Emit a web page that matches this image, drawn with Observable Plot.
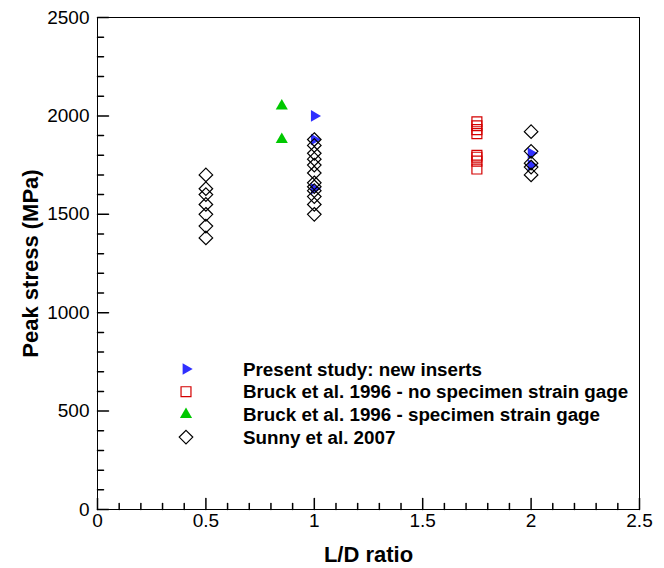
<!DOCTYPE html>
<html><head><meta charset="utf-8">
<script src="https://cdn.jsdelivr.net/npm/d3@7"></script>
<script src="https://cdn.jsdelivr.net/npm/@observablehq/plot@0.6"></script>
<style>
body{margin:0;background:#fff;}
#wrap{position:relative;width:664px;height:568px;font-family:"Liberation Sans",Arial,sans-serif;}
g[aria-label="x-axis label"] text, g[aria-label="y-axis label"] text{font-weight:bold;font-size:22px;}
</style></head><body><div id="wrap"></div>
<script>
// Present study: new inserts
const presentX = [1, 1, 1, 2, 2];
const presentY = [2000, 1880, 1630, 1810, 1750];
// Bruck et al. 1996 - no specimen strain gage
const bruckNoX = [1.75, 1.75, 1.75, 1.75, 1.75, 1.75, 1.75, 1.75];
const bruckNoY = [1970, 1950, 1930, 1910, 1800, 1790, 1770, 1730];
// Bruck et al. 1996 - specimen strain gage
const bruckGX = [0.85, 0.85];
const bruckGY = [2050, 1880];
// Sunny et al. 2007
const sunnyX = [0.5,0.5,0.5,0.5,0.5,0.5,0.5, 1,1,1,1,1,1,1,1,1,1,1,1, 2,2,2,2,2];
const sunnyY = [1700,1630,1600,1550,1500,1440,1380,
                1880,1850,1810,1780,1750,1710,1660,1640,1620,1590,1550,1500,
                1920,1820,1760,1740,1700];

const xMajor = [0, 0.5, 1, 1.5, 2, 2.5];
const xMinor = d3.range(0, 25).map(i => i / 10).filter(v => Math.round(v * 10) % 5 !== 0);
const yMajor = [0, 500, 1000, 1500, 2000, 2500];
const yMinor = d3.range(0, 25).map(i => i * 100).filter(v => v % 500 !== 0);

const series = [
  {label: "Present study: new inserts", xs: presentX, ys: presentY, symbol: "triangle", d3s: d3.symbolTriangle, fill: "#2f2fff", stroke: "none", rotate: 90, r: 4.3},
  {label: "Bruck et al. 1996 - no specimen strain gage", xs: bruckNoX, ys: bruckNoY, symbol: "square", d3s: d3.symbolSquare, fill: "none", stroke: "#d40000", rotate: 0, r: 5.6},
  {label: "Bruck et al. 1996 - specimen strain gage", xs: bruckGX, ys: bruckGY, symbol: "triangle", d3s: d3.symbolTriangle, fill: "#00c800", stroke: "none", rotate: 0, r: 4.5},
  {label: "Sunny et al. 2007", xs: sunnyX, ys: sunnyY, symbol: "diamond2", d3s: d3.symbolDiamond2, fill: "none", stroke: "black", rotate: 0, r: 6.1}
];

const tickShape = {draw(ctx, l) { ctx.moveTo(0, 0); ctx.lineTo(0, -l); }};

const chart = Plot.plot({
  width: 664, height: 568,
  marginLeft: 97, marginRight: 25, marginTop: 17, marginBottom: 59,
  style: {fontFamily: "Liberation Sans, Arial, sans-serif", fontSize: "19px", color: "black", background: "white"},
  x: {domain: [0, 2.5]},
  y: {domain: [0, 2500]},
  marks: [
    Plot.axisX(xMajor, {tickSize: 0, tickPadding: 4, tickFormat: d => String(d), label: "L/D ratio", labelAnchor: "center", labelArrow: "none", labelOffset: 52}),
    Plot.axisY(yMajor, {tickSize: 0, tickPadding: 8, tickFormat: d => String(d), label: "Peak stress (MPa)", labelAnchor: "center", labelArrow: "none", labelOffset: 75}),
    Plot.vector(xMajor, {x: d => d, frameAnchor: "bottom", length: 11, rotate: 0, anchor: "start", shape: tickShape, stroke: "black"}),
    Plot.vector(xMinor, {x: d => d, frameAnchor: "bottom", length: 6, rotate: 0, anchor: "start", shape: tickShape, stroke: "black"}),
    Plot.vector(yMajor, {y: d => d, frameAnchor: "left", length: 11, rotate: 90, anchor: "start", shape: tickShape, stroke: "black"}),
    Plot.vector(yMinor, {y: d => d, frameAnchor: "left", length: 6, rotate: 90, anchor: "start", shape: tickShape, stroke: "black"}),
    ...series.map(s => Plot.dot(s.ys.map((y, i) => ({x: s.xs[i], y})), {
      x: "x", y: "y", symbol: () => s.symbol, r: s.r, fill: s.fill, stroke: s.stroke,
      strokeWidth: 1.2, rotate: s.rotate
    })),
    Plot.frame({stroke: "black"})
  ]
});
const wrap = document.getElementById("wrap");
wrap.appendChild(chart);

// legend overlay
const leg = d3.select(wrap).append("svg")
  .attr("width", 664).attr("height", 568)
  .style("position", "absolute").style("left", 0).style("top", 0)
  .style("pointer-events", "none");
series.forEach((s, i) => {
  const yy = 369 + i * 22.7;
  leg.append("path")
    .attr("d", d3.symbol(s.d3s, Math.PI * s.r * s.r)())
    .attr("transform", `translate(186,${yy}) rotate(${s.rotate})`)
    .attr("fill", s.fill).attr("stroke", s.stroke).attr("stroke-width", 1.2);
  leg.append("text")
    .attr("x", 243).attr("y", yy).attr("dy", "0.35em")
    .attr("font-family", "Liberation Sans, Arial, sans-serif")
    .attr("font-size", 18.8).attr("font-weight", "bold")
    .text(s.label);
});
</script></body></html>
